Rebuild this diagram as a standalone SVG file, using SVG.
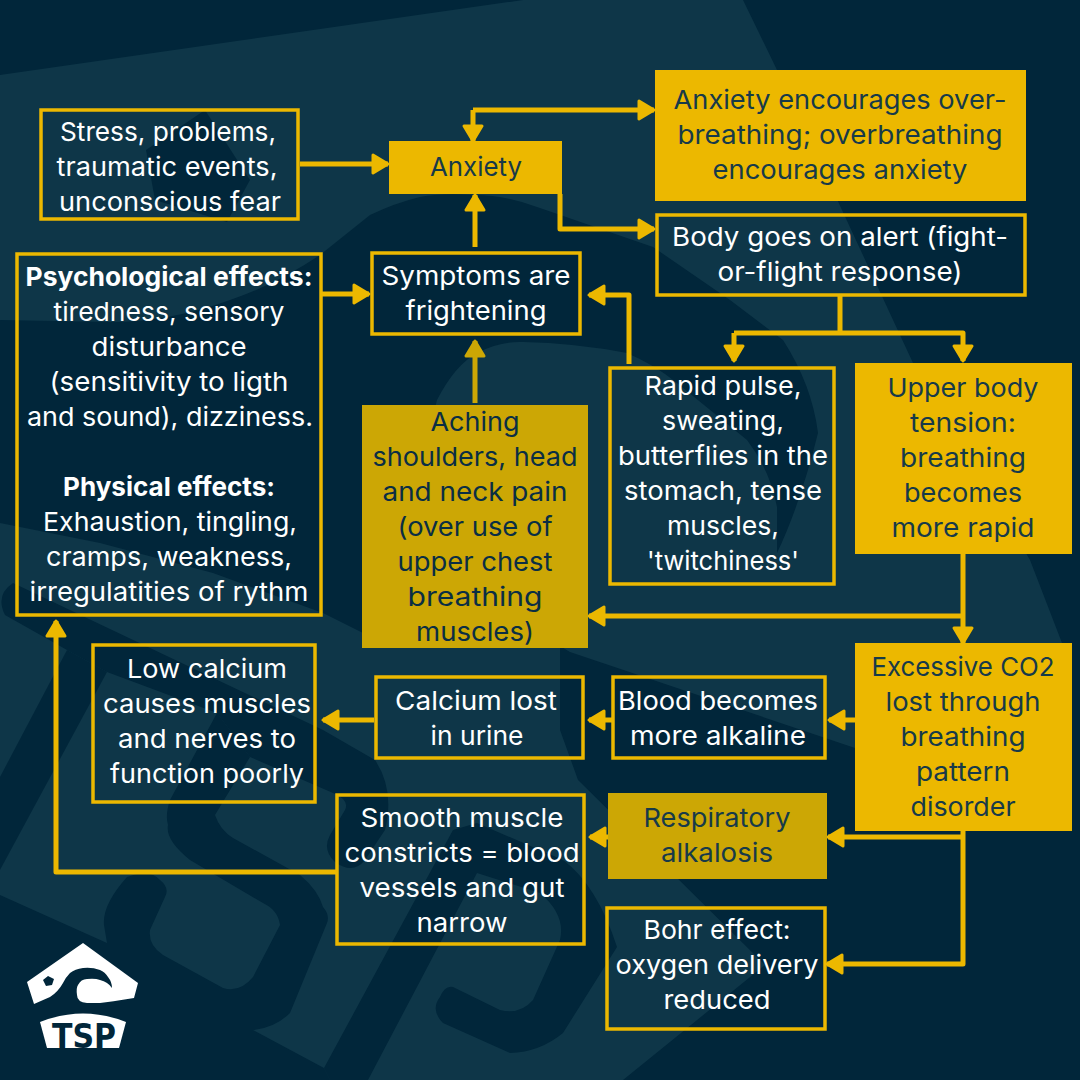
<svg xmlns="http://www.w3.org/2000/svg" width="1080" height="1080" viewBox="0 0 1080 1080">
<defs>
<marker id="ah" markerUnits="userSpaceOnUse" markerWidth="22" markerHeight="24" refX="18" refY="12" orient="auto"><path d="M3 3L18 12L3 21Z" fill="#ecb800" stroke="#ecb800" stroke-width="3" stroke-linejoin="round"/></marker>
<marker id="ad" markerUnits="userSpaceOnUse" markerWidth="22" markerHeight="24" refX="18" refY="12" orient="auto"><path d="M3 3L18 12L3 21Z" fill="#cca705" stroke="#cca705" stroke-width="3" stroke-linejoin="round"/></marker>
</defs>
<style>
.o{fill:none;stroke:#ecb800;stroke-width:3.5}
.f{fill:#ecb800}
.d{fill:#cca705}
text{font-family:"Inter","Noto Sans","Liberation Sans",sans-serif;font-size:26px;text-anchor:middle;fill:#fff}
.k{fill:#173a49}
.n{fill:#0a2e44}
.b{font-weight:700}
.c{fill:none;stroke:#ecb800;stroke-width:5;stroke-linejoin:round;marker-end:url(#ah)}
.p{fill:none;stroke:#ecb800;stroke-width:5}
.bg{fill:#0e3648}
.dk{fill:#01263a}
</style>
<rect width="1080" height="1080" fill="#01263a"/>
<g id="background">
<path class="bg" d="M0 75L523 0H743Q760 35 777 70L913 363L1030 560L1062 643L1000 705L855 748L570 652L400 550L437 400Q455 365 477 353Q500 341 523 342Q575 343 627 353Q655 365 677 383L747 440Q770 470 777 507V553Q800 505 818 433Q812 385 783 340L730 300L653 247L540 208Q505 195 475 195Q440 193 420 197Q395 203 370 215L320 255Q275 285 230 300Q170 322 110 322L0 320Z"/>
<path class="bg" d="M0 523L100 543L213 573L323 613L363 633L560 648V730L578 780L765 965L623 1080H0Z"/>
<path class="dk" d="M146 150L205 110L250 180L227 222L155 200Z"/>
<path class="dk" d="M13 583L323 730L375 760Q395 790 385 830L365 860Q353 875 335 862Q322 850 330 835L345 810Q350 800 333 793L250 757L217 713L107 672L67 650L5 615Q-5 595 13 583Z"/>
<path class="dk" d="M67 650L107 672L0 870V777Z"/>
<path class="dk" d="M0 895L107 943L104 925Q102 905 127 877Q150 868 160 880Q170 888 165 897L150 930Q148 945 163 955L223 988Q240 993 253 977L280 925Q278 910 263 903L190 860Q165 840 168 825Q165 815 170 800L217 713L250 757L215 815Q220 830 233 838L300 875Q318 890 323 907Q330 915 327 923L290 1013Q275 1028 253 1030L324 1068L330 1080H0Z"/>
<path class="dk" d="M324 1068L453 830L477 823L563 860Q597 885 617 947L563 1033Q540 1052 510 1053L443 1023Q430 1010 440 997Q445 985 453 987L500 1010Q520 1015 533 1000L560 940Q566 915 540 893L477 873L368 1080H330Z"/>
</g>
<g id="connectors">
<path class="c" d="M300 164H388"/>
<path class="c" d="M473 110V141"/>
<path class="c" d="M473 110H654"/>
<path class="c" d="M560 194V229H654"/>
<path class="c" d="M475 247V195"/>
<path class="c" d="M322 294H369"/>
<path class="c" style="stroke:#cca705;marker-end:url(#ad)" d="M475 403V341"/>
<path class="c" d="M629 364V295H589"/>
<path class="p" d="M840 296V333"/>
<path class="c" d="M734 333V361"/>
<path class="c" d="M734 333H963V361"/>
<path class="c" d="M963 554V643"/>
<path class="c" d="M963 616H589"/>
<path class="c" d="M855 720H829"/>
<path class="c" d="M612 720H589"/>
<path class="c" d="M374 720H323"/>
<path class="c" d="M963 837H828"/>
<path class="c" d="M963 831V964H827"/>
<path class="c" d="M608 837H590"/>
<path class="c" d="M336 872H56V621"/>
</g>
<g id="n1"><rect class="o" x="41" y="110" width="257" height="109"/><text x="168" y="141" textLength="216" lengthAdjust="spacingAndGlyphs">Stress, problems,</text><text x="167" y="176" textLength="221" lengthAdjust="spacingAndGlyphs">traumatic events,</text><text x="170" y="211" textLength="222" lengthAdjust="spacingAndGlyphs">unconscious fear</text></g>
<g id="n2"><rect class="f" x="389" y="141" width="173" height="53"/><text class="k" x="476" y="176" textLength="92" lengthAdjust="spacingAndGlyphs">Anxiety</text></g>
<g id="n3"><rect class="f" x="655" y="70" width="371" height="131"/><text class="k" x="840" y="109" textLength="333" lengthAdjust="spacingAndGlyphs">Anxiety encourages over-</text><text class="k" x="840" y="144" textLength="325" lengthAdjust="spacingAndGlyphs">breathing; overbreathing</text><text class="k" x="840" y="179" textLength="255" lengthAdjust="spacingAndGlyphs">encourages anxiety</text></g>
<g id="n4"><rect class="o" x="657" y="215" width="368" height="80"/><text x="840" y="246" textLength="336" lengthAdjust="spacingAndGlyphs">Body goes on alert (fight-</text><text x="840" y="281" textLength="245" lengthAdjust="spacingAndGlyphs">or-flight response)</text></g>
<g id="n5"><rect class="o" x="372" y="253" width="208" height="81"/><text x="476" y="285" textLength="189" lengthAdjust="spacingAndGlyphs">Symptoms are</text><text x="476" y="320" textLength="141" lengthAdjust="spacingAndGlyphs">frightening</text></g>
<g id="n6"><rect class="o" x="17" y="254" width="304" height="361"/><text class="b" x="169" y="286" textLength="287" lengthAdjust="spacingAndGlyphs">Psychological effects:</text><text x="169" y="321" textLength="231" lengthAdjust="spacingAndGlyphs">tiredness, sensory</text><text x="169" y="356" textLength="155" lengthAdjust="spacingAndGlyphs">disturbance</text><text x="169" y="391" textLength="239" lengthAdjust="spacingAndGlyphs">(sensitivity to ligth</text><text x="170" y="426" textLength="286" lengthAdjust="spacingAndGlyphs">and sound), dizziness.</text><text class="b" x="169" y="496" textLength="212" lengthAdjust="spacingAndGlyphs">Physical effects:</text><text x="170" y="531" textLength="254" lengthAdjust="spacingAndGlyphs">Exhaustion, tingling,</text><text x="169" y="566" textLength="246" lengthAdjust="spacingAndGlyphs">cramps, weakness,</text><text x="169" y="601" textLength="279" lengthAdjust="spacingAndGlyphs">irregulatities of rythm</text></g>
<g id="n7"><rect class="d" x="362" y="405" width="226" height="243"/><text class="n" x="475" y="431" textLength="89" lengthAdjust="spacingAndGlyphs">Aching</text><text class="n" x="475" y="466" textLength="205" lengthAdjust="spacingAndGlyphs">shoulders, head</text><text class="n" x="475" y="501" textLength="185" lengthAdjust="spacingAndGlyphs">and neck pain</text><text class="n" x="475" y="536" textLength="155" lengthAdjust="spacingAndGlyphs">(over use of</text><text class="n" x="475" y="571" textLength="155" lengthAdjust="spacingAndGlyphs">upper chest</text><text class="n" x="475" y="606" textLength="135" lengthAdjust="spacingAndGlyphs">breathing</text><text class="n" x="475" y="641" textLength="118" lengthAdjust="spacingAndGlyphs">muscles)</text></g>
<g id="n8"><rect class="o" x="610" y="368" width="224" height="216"/><text x="723" y="395" textLength="157" lengthAdjust="spacingAndGlyphs">Rapid pulse,</text><text x="723" y="430" textLength="122" lengthAdjust="spacingAndGlyphs">sweating,</text><text x="723" y="465" textLength="210" lengthAdjust="spacingAndGlyphs">butterflies in the</text><text x="723" y="500" textLength="198" lengthAdjust="spacingAndGlyphs">stomach, tense</text><text x="723" y="535" textLength="112" lengthAdjust="spacingAndGlyphs">muscles,</text><text x="723" y="570" textLength="152" lengthAdjust="spacingAndGlyphs">'twitchiness'</text></g>
<g id="n9"><rect class="f" x="855" y="363" width="217" height="191"/><text class="k" x="963" y="397" textLength="151" lengthAdjust="spacingAndGlyphs">Upper body</text><text class="k" x="963" y="432" textLength="106" lengthAdjust="spacingAndGlyphs">tension:</text><text class="k" x="963" y="467" textLength="126" lengthAdjust="spacingAndGlyphs">breathing</text><text class="k" x="963" y="502" textLength="118" lengthAdjust="spacingAndGlyphs">becomes</text><text class="k" x="963" y="537" textLength="143" lengthAdjust="spacingAndGlyphs">more rapid</text></g>
<g id="n10"><rect class="f" x="855" y="643" width="217" height="188"/><text class="k" x="963" y="676" textLength="183" lengthAdjust="spacingAndGlyphs">Excessive CO2</text><text class="k" x="963" y="711" textLength="155" lengthAdjust="spacingAndGlyphs">lost through</text><text class="k" x="963" y="746" textLength="125" lengthAdjust="spacingAndGlyphs">breathing</text><text class="k" x="963" y="781" textLength="94" lengthAdjust="spacingAndGlyphs">pattern</text><text class="k" x="963" y="816" textLength="105" lengthAdjust="spacingAndGlyphs">disorder</text></g>
<g id="n11"><rect class="o" x="613" y="677" width="212" height="81"/><text x="718" y="710" textLength="200" lengthAdjust="spacingAndGlyphs">Blood becomes</text><text x="718" y="745" textLength="176" lengthAdjust="spacingAndGlyphs">more alkaline</text></g>
<g id="n12"><rect class="o" x="376" y="677" width="207" height="81"/><text x="476" y="710" textLength="162" lengthAdjust="spacingAndGlyphs">Calcium lost</text><text x="477" y="745" textLength="93" lengthAdjust="spacingAndGlyphs">in urine</text></g>
<g id="n13"><rect class="o" x="93" y="645" width="222" height="157"/><text x="207" y="678" textLength="160" lengthAdjust="spacingAndGlyphs">Low calcium</text><text x="207" y="713" textLength="208" lengthAdjust="spacingAndGlyphs">causes muscles</text><text x="207" y="748" textLength="178" lengthAdjust="spacingAndGlyphs">and nerves to</text><text x="207" y="783" textLength="194" lengthAdjust="spacingAndGlyphs">function poorly</text></g>
<g id="n14"><rect class="d" x="608" y="793" width="219" height="86"/><text class="k" x="717" y="827" textLength="147" lengthAdjust="spacingAndGlyphs">Respiratory</text><text class="k" x="717" y="862" textLength="112" lengthAdjust="spacingAndGlyphs">alkalosis</text></g>
<g id="n15"><rect class="o" x="337" y="795" width="247" height="149"/><text x="462" y="827" textLength="203" lengthAdjust="spacingAndGlyphs">Smooth muscle</text><text x="462" y="862" textLength="235" lengthAdjust="spacingAndGlyphs">constricts = blood</text><text x="462" y="897" textLength="205" lengthAdjust="spacingAndGlyphs">vessels and gut</text><text x="462" y="932" textLength="91" lengthAdjust="spacingAndGlyphs">narrow</text></g>
<g id="n16"><rect class="o" x="607" y="908" width="218" height="121"/><text x="717" y="939" textLength="147" lengthAdjust="spacingAndGlyphs">Bohr effect:</text><text x="717" y="974" textLength="203" lengthAdjust="spacingAndGlyphs">oxygen delivery</text><text x="717" y="1009" textLength="107" lengthAdjust="spacingAndGlyphs">reduced</text></g>
<g id="logo">
<path fill="#fff" fill-rule="evenodd" d="M83 943L138 983L134 998Q110 1002 100 1003H87Q77 1002 77 995Q76 988 78 985Q81 979 87 979Q95 978 100 980Q108 982 112 988Q112 982 108 977Q105 972 100 970Q92 967 83 968Q75 969 70 973Q66 977 63 983Q58 992 50 997L34 1004L27 982ZM43 980L48 976L54 979L52 985L46 986Z"/>
<path fill="#fff" d="M40 1022Q83 1005 126 1022L119 1048H47Z"/>
<text x="84" y="1048" textLength="64" lengthAdjust="spacingAndGlyphs" style="font-family:'DejaVu Sans','Liberation Sans',sans-serif;font-size:33px;font-weight:700;fill:#01263a">TSP</text>
</g>
</svg>
